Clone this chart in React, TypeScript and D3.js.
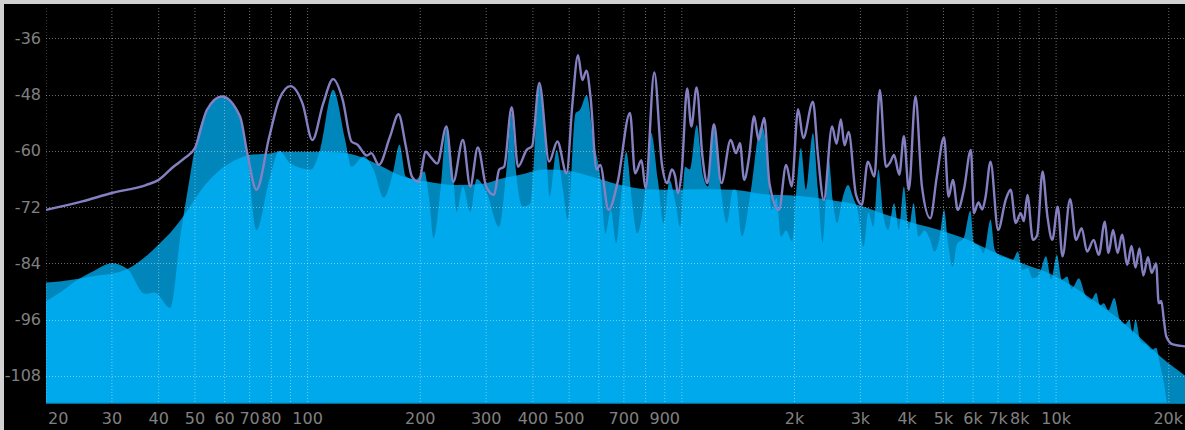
import React from "react";
import * as d3 from "d3";

// spectrum analyser: peak-hold line, live spectrum, smoothed average
const holdFreq = [20, 25, 30, 37, 40, 43.8, 47, 50, 53.8, 59, 66, 69, 73, 79, 84, 90, 97, 103, 110, 117, 124, 131, 136, 144, 148, 155, 166, 175, 183, 190, 198, 207, 214, 222, 235, 245, 260, 272, 285, 300, 315, 325, 335, 351, 365, 385, 398, 416, 442, 465, 492, 510, 528, 542, 556, 570, 592, 605, 637, 674, 727, 750, 780, 800, 844, 884, 914, 940, 960, 976, 1000, 1033, 1060, 1095, 1135, 1170, 1218, 1275, 1350, 1396, 1430, 1467, 1513, 1560, 1603, 1660, 1714, 1817, 1900, 1965, 2045, 2110, 2240, 2310, 2395, 2520, 2590, 2660, 2720, 2790, 2920, 3025, 3140, 3270, 3380, 3510, 3600, 3690, 3810, 3920, 4040, 4210, 4380, 4610, 4800, 5020, 5160, 5300, 5460, 5670, 5920, 6030, 6200, 6350, 6480, 6680, 7000, 7330, 7560, 7800, 8040, 8200, 8380, 8670, 8900, 9200, 9480, 9770, 10100, 10400, 10900, 11300, 11700, 12100, 12600, 13000, 13500, 13800, 14200, 14600, 15000, 15500, 15900, 16300, 16700, 17100, 17600, 18000, 18500, 18800, 19100, 19400, 19700, 20500, 22100];
const holdDb = [-72.6, -70.8, -69, -67.3, -66.2, -63.4, -61.5, -59.4, -51.3, -48.4, -52.7, -60.5, -68.3, -57, -49, -46.2, -50, -57.7, -50, -44.7, -49, -58, -58.7, -61, -60.5, -63, -57, -52.2, -59, -65.5, -66.6, -60.2, -61.5, -62.7, -54.8, -66.6, -57.7, -67.6, -59.3, -67.6, -69.4, -64, -63.4, -50.7, -63.4, -59.8, -59, -45.5, -62.3, -58, -64.8, -50, -39.6, -44.9, -42.9, -48.4, -64, -63, -72.6, -66.6, -51.9, -64.8, -62, -68, -43.3, -62.7, -66.9, -64, -65.5, -69, -64, -46.7, -54.8, -46.5, -61.2, -66.9, -54.3, -66.9, -57.7, -60.5, -58.4, -66.2, -61.2, -52.6, -57.7, -53, -66.9, -72.6, -63, -67.6, -51.1, -57.3, -49.5, -60.9, -70.5, -54.8, -58.5, -53.3, -58.8, -56, -69.4, -71.5, -62.3, -65.5, -47, -63.4, -62.5, -60.9, -65.1, -56.9, -68.3, -48.4, -67.6, -74.4, -65.5, -57.1, -69.8, -66.2, -72.6, -68.3, -59.8, -73.3, -71, -72.5, -69.8, -62.3, -76.9, -70.5, -68.3, -75.4, -73.3, -75, -69.4, -79, -78, -64.4, -74, -79, -71.9, -82.5, -70.3, -79, -76.5, -81.5, -79, -82.2, -75.1, -81.8, -76.9, -81.8, -77.9, -84.3, -80.3, -84.9, -80.8, -86.6, -82.7, -86, -84, -92.5, -92, -96, -99.6, -101.3, -101.7];

const liveFreq = [20, 22, 24.4, 27, 30, 33, 36.8, 39, 43, 45.7, 48, 50.5, 53.8, 59, 66, 69, 73, 79, 84, 90, 102, 108, 117, 126, 131, 141, 150, 160, 169, 176, 183, 194, 205, 211, 217, 227, 235, 245, 250, 260, 272, 283, 301, 325, 340, 351, 360, 376, 394, 416, 434, 443, 463, 480, 496, 520, 534, 557, 580, 605, 625, 646, 668, 686, 710, 737, 760, 782, 805, 828, 863, 894, 927, 962, 990, 1020, 1050, 1096, 1140, 1175, 1215, 1265, 1320, 1370, 1395, 1446, 1530, 1612, 1640, 1690, 1740, 1790, 1840, 1900, 1970, 2030, 2080, 2145, 2240, 2310, 2380, 2470, 2530, 2600, 2680, 2780, 2870, 2950, 3060, 3150, 3250, 3350, 3450, 3560, 3690, 3800, 3920, 4040, 4160, 4290, 4450, 4610, 4730, 4870, 5020, 5150, 5290, 5430, 5670, 5900, 6030, 6200, 6400, 6680, 6850, 7050, 7350, 7650, 7900, 8120, 8400, 8650, 9000, 9400, 9700, 10050, 10350, 10700, 11000, 11500, 12000, 12400, 12800, 13100, 13400, 13800, 14300, 14800, 15300, 15700, 16000, 16300, 16800, 17500, 18000, 18500, 19000, 19400, 20000, 22100];
const liveDb = [-92.1, -90, -87.4, -85.5, -84, -85.2, -90.5, -90.2, -93.5, -78.3, -67.6, -57.7, -51.3, -48.4, -53, -60.9, -76.9, -66.2, -60, -62.7, -64, -59.8, -47, -57.7, -63.4, -61.2, -64, -70, -64.8, -58.7, -65.5, -66.2, -64.4, -69.8, -78.6, -67.6, -55.2, -65.5, -73, -67.6, -73, -66, -69, -76.2, -64, -52, -64, -71.9, -71.2, -45.6, -59.8, -69.8, -59.8, -67.6, -74.7, -52, -51.3, -48.1, -57.7, -65.5, -77.6, -72.6, -79.7, -71.2, -60.2, -71.2, -77.6, -74, -65.5, -56.2, -66.2, -75.4, -66.2, -71.2, -76.2, -63.4, -64, -54.5, -65.5, -67.6, -54.5, -66.9, -75.4, -68.3, -68.3, -78.3, -68.3, -55.5, -54.8, -60.5, -72.6, -70, -78.3, -77, -79.3, -66.9, -59.4, -68.3, -56.2, -68.3, -79.7, -62, -70.5, -75.4, -70.5, -67.3, -70, -72.6, -80.4, -73.2, -76.2, -64, -73.5, -76.9, -71.2, -76.9, -67.6, -76.9, -71.2, -78.3, -77, -79, -81.5, -79, -72.6, -80, -84.7, -80, -78.5, -72.8, -79.7, -80.2, -81.8, -74.7, -81, -82.4, -82.8, -83.3, -81.5, -85.4, -85, -87.2, -86.5, -82.5, -87.5, -82.2, -87.5, -86.8, -89.5, -87.2, -91, -91.8, -90.3, -93, -92.5, -94, -91.4, -96, -97, -96, -99, -96, -100.5, -101.5, -102.5, -102, -106, -109.4, -115, -115];

const avgFreq = [20, 22, 25, 28, 30, 33, 37, 40, 43.6, 47.5, 52, 57, 63, 70, 80, 84, 100, 120, 135, 155, 180, 210, 250, 290, 335, 370, 430, 490, 590, 670, 800, 900, 1100, 1370, 1640, 2030, 2490, 3000, 3530, 4100, 5020, 5930, 6600, 8120, 9980, 12200, 14400, 17000, 19200, 22100];
const avgDb = [-88.1, -87.8, -87.2, -86.5, -86.2, -85.2, -82.5, -80, -76.9, -73, -68.3, -64.8, -62.3, -60.9, -60.5, -60.2, -60.2, -60.3, -61, -63, -65.5, -66.6, -67.3, -67.1, -65.8, -65.1, -64, -64.2, -65.8, -67.1, -68.2, -68.3, -68.2, -68.3, -69.2, -69.6, -70.5, -71.7, -73.7, -75.3, -77.2, -79.3, -81.1, -84, -86.8, -91.1, -95.3, -100.3, -104.2, -107.9];

const labelFreqs = [20, 30, 40, 50, 60, 70, 80, 100, 200, 300, 400, 500, 700, 900, 2000, 3000, 4000, 5000, 6000, 7000, 8000, 10000, 20000];
const labelText = ["20", "30", "40", "50", "60", "70", "80", "100", "200", "300", "400", "500", "700", "900", "2k", "3k", "4k", "5k", "6k", "7k", "8k", "10k", "20k"];
const dbTicks = [-36, -48, -60, -72, -84, -96, -108];

const W = 1185;
const H = 430;
const plot = { left: 46, right: 1185, top: 4, bottom: 403.5 };

export default function App() {
  const x = d3.scaleLog().domain([20, 22100]).range([plot.left, plot.right]);
  const y = d3.scaleLinear().domain([-114, -28.6]).range([404, 3.6]);

  const gridFreqs: number[] = [];
  [10, 100, 1000, 10000].forEach((dec) => {
    for (let k = 1; k <= 9; k++) {
      const f = dec * k;
      if (f >= 20 && f <= 20000) gridFreqs.push(f);
    }
  });

  const toPts = (fs: number[], ds: number[]) => fs.map((f, i) => [f, ds[i]] as [number, number]);
  const hold = toPts(holdFreq, holdDb);
  const live = toPts(liveFreq, liveDb);
  const avg = toPts(avgFreq, avgDb);

  const area = d3
    .area<[number, number]>()
    .x((d) => x(d[0]))
    .y0(plot.bottom)
    .y1((d) => y(d[1]))
    .curve(d3.curveMonotoneX);
  const line = d3
    .line<[number, number]>()
    .x((d) => x(d[0]))
    .y((d) => y(d[1]))
    .curve(d3.curveMonotoneX);

  const dark = "#0086ba";
  const bright = "#00a9ec";
  const grid = "rgba(255,255,255,0.42)";
  const textCol = "#808080";

  return (
    <svg width={W} height={H} style={{ position: "absolute", left: 0, top: 0, display: "block" }}>
      <defs>
        <clipPath id="plotClip">
          <rect x={plot.left} y={plot.top} width={plot.right - plot.left} height={plot.bottom - plot.top} />
        </clipPath>
        <clipPath id="liveClip">
          <path d={area(live) || ""} />
        </clipPath>
      </defs>
      <rect x={0} y={0} width={W} height={H} fill="#d2d2d2" />
      <rect x={4} y={4} width={W - 4} height={H - 4} fill="#000" />

      <g clipPath="url(#plotClip)">
        {/* union dark, intersection bright */}
        <path d={area(live) || ""} fill={dark} />
        <path d={area(avg) || ""} fill={dark} />
        <path d={area(avg) || ""} fill={bright} clipPath="url(#liveClip)" />

        {gridFreqs.map((f) => (
          <line key={"v" + f} x1={x(f)} x2={x(f)} y1={plot.top + 4} y2={plot.bottom} stroke={grid} strokeDasharray="1 2" />
        ))}
        {dbTicks.map((d) => (
          <line key={"h" + d} x1={plot.left} x2={plot.right} y1={Math.round(y(d)) + 0.5} y2={Math.round(y(d)) + 0.5} stroke={grid} strokeDasharray="1 2" />
        ))}

        <path d={line(hold) || ""} fill="none" stroke="#8480c2" strokeWidth={2.4} strokeLinejoin="round" />
      </g>
      <line x1={plot.left} x2={plot.right} y1={403} y2={403} stroke="#0a8cc0" strokeWidth={1} />

      <g fontFamily="DejaVu Sans, Verdana, sans-serif" fontSize={16} fill={textCol}>
        {dbTicks.map((d) => (
          <text key={"yl" + d} x={41} y={y(d) + 5.5} textAnchor="end">
            {d}
          </text>
        ))}
        {labelFreqs.map((f, i) => {
          const first = i === 0;
          const last = i === labelFreqs.length - 1;
          return (
            <text
              key={"xl" + f}
              x={first ? 48 : last ? 1183 : x(f)}
              y={424}
              textAnchor={first ? "start" : last ? "end" : "middle"}
            >
              {labelText[i]}
            </text>
          );
        })}
      </g>
    </svg>
  );
}
